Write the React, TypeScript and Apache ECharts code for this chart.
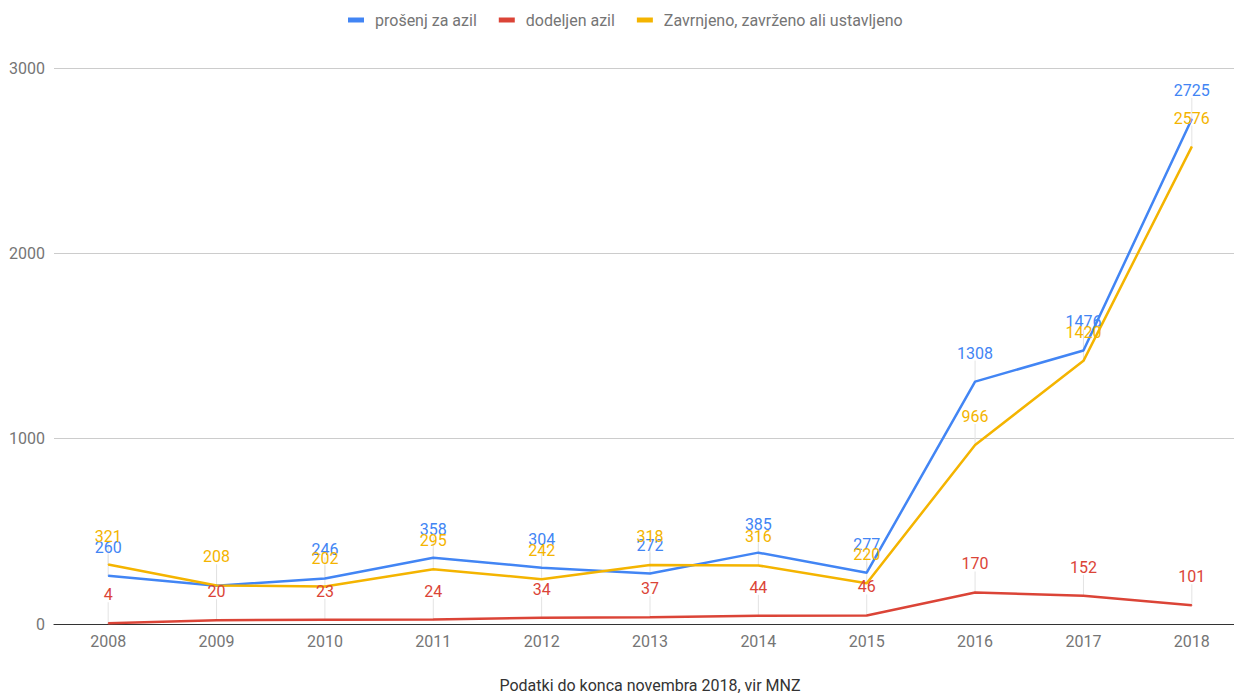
import React, { useEffect, useRef } from "react";
import * as echarts from "echarts";

const years = ["2008", "2009", "2010", "2011", "2012", "2013", "2014", "2015", "2016", "2017", "2018"];
const applied = [260, 207, 246, 358, 304, 272, 385, 277, 1308, 1476, 2725];
const granted = [4, 20, 23, 24, 34, 37, 44, 46, 170, 152, 101];
const closed = [321, 208, 202, 295, 242, 318, 316, 220, 966, 1420, 2576];
const seriesNames = ["prošenj za azil", "dodeljen azil", "Zavrnjeno, zavrženo ali ustavljeno"];
const seriesColors = ["#4285F4", "#DB4437", "#F4B400"];
const hiddenAppliedLabels = [1];
const footerText = "Podatki do konca novembra 2018, vir MNZ";

const FONT = "Roboto";

export default function App() {
  const ref = useRef<HTMLDivElement>(null);
  useEffect(() => {
    if (!ref.current) return;
    const chart = echarts.init(ref.current, undefined, { renderer: "svg" });
    const allSeries = [applied, granted, closed];
    const stems: number[][] = [];
    allSeries.forEach((arr) => arr.forEach((v, i) => stems.push([i, v])));

    const lineSeries = allSeries.map((arr, s) => ({
      type: "line",
      name: seriesNames[s],
      data: arr.map((v, i) =>
        s === 0 && hiddenAppliedLabels.includes(i) ? { value: v, label: { show: false } } : v
      ),
      symbol: "circle",
      symbolSize: 1,
      showSymbol: true,
      lineStyle: { width: 2.5, color: seriesColors[s] },
      itemStyle: { color: seriesColors[s] },
      label: {
        show: true,
        position: "top",
        distance: 20,
        color: seriesColors[s],
        fontSize: 16,
        fontFamily: FONT,
      },
      emphasis: { disabled: true },
      z: 3,
    }));

    chart.setOption({
      animation: false,
      grid: { left: 54, right: 0, top: 68, bottom: 69 },
      legend: {
        data: seriesNames,
        left: 343,
        top: 7,
        icon: "rect",
        itemWidth: 16,
        itemHeight: 5,
        itemGap: 22,
        textStyle: { fontSize: 16, color: "#757575", fontFamily: FONT, padding: [0, 0, 0, 6] },
      },
      xAxis: {
        type: "category",
        data: years,
        boundaryGap: true,
        axisLine: { lineStyle: { color: "#333", width: 1.2 } },
        axisTick: { show: false },
        axisLabel: { color: "#757575", fontSize: 16, fontFamily: FONT, margin: 9 },
        splitLine: { show: false },
      },
      yAxis: {
        type: "value",
        min: 0,
        max: 3000,
        interval: 1000,
        axisLine: { show: false },
        axisTick: { show: false },
        axisLabel: {
          color: "#757575",
          fontSize: 16,
          fontFamily: FONT,
          margin: 9,
          formatter: (v: number) => String(v),
        },
        splitLine: { lineStyle: { color: "#cccccc", width: 1 } },
      },
      graphic: [
        {
          type: "text",
          x: 650,
          y: 685,
          style: {
            text: footerText,
            textAlign: "center",
            textVerticalAlign: "middle",
            fontSize: 16,
            fontFamily: FONT,
            fill: "#333",
          },
        },
      ],
      series: [
        {
          type: "custom",
          name: "stems",
          coordinateSystem: "cartesian2d",
          data: stems,
          silent: true,
          z: 1,
          renderItem: (params: any, api: any) => {
            const p = api.coord([api.value(0), api.value(1)]);
            return {
              type: "line",
              shape: { x1: p[0], y1: p[1], x2: p[0], y2: p[1] - 21 },
              style: { stroke: "#e3e3e3", lineWidth: 1 },
            };
          },
        },
        ...lineSeries,
      ],
    });
    return () => chart.dispose();
  }, []);
  return (
    <div style={{ position: "absolute", left: 0, top: 0, width: 1234, height: 693, overflow: "hidden", background: "#fff" }}>
      <div ref={ref} style={{ width: 1246, height: 693 }} />
    </div>
  );
}
